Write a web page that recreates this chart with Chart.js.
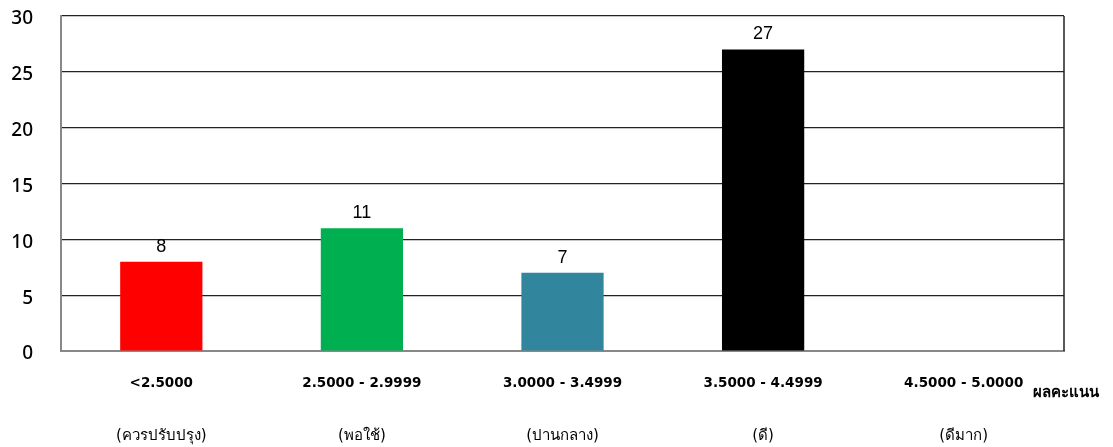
<!DOCTYPE html>
<html>
<head>
<meta charset="utf-8">
<script src="https://cdn.jsdelivr.net/npm/chart.js@4"></script>
<style>
    html, body { margin: 0; padding: 0; background: #fff; }
    #wrap { width: 1113px; height: 447px; }
</style>
</head>
<body>
<div id="wrap"><canvas id="scoreChart" width="1113" height="447"></canvas></div>
<script>
const ranges = ['<2.5000', '2.5000 - 2.9999', '3.0000 - 3.4999', '3.5000 - 4.4999', '4.5000 - 5.0000'];
const levels = ['(ควรปรับปรุง)', '(พอใช้)', '(ปานกลาง)', '(ดี)', '(ดีมาก)'];
const counts = [8, 11, 7, 27, 0];
const barColors = ['#FF0000', '#00B050', '#31859C', '#000000', '#FFFFFF'];
const yTicks = [0, 5, 10, 15, 20, 25, 30];
const axisTitle = 'ผลคะแนน';

// value labels above each bar + right frame line + axis title
const extras = {
    id: 'extras',
    afterDatasetsDraw(chart) {
        const ctx = chart.ctx;
        const area = chart.chartArea;
        ctx.save();
        ctx.strokeStyle = '#222';
        ctx.lineWidth = 1.5;
        ctx.beginPath();
        ctx.moveTo(area.right, area.top);
        ctx.lineTo(area.right, area.bottom);
        ctx.stroke();

        ctx.fillStyle = '#000';
        ctx.font = '18px "Liberation Sans", Arial, sans-serif';
        ctx.textAlign = 'center';
        ctx.textBaseline = 'middle';
        chart.getDatasetMeta(0).data.forEach((bar, i) => {
            if (!counts[i]) return;
            ctx.fillText(String(counts[i]), bar.x, bar.y - 15);
        });

        ctx.font = 'bold 15px Tahoma, "DejaVu Sans", sans-serif';
        ctx.textAlign = 'left';
        ctx.fillText(axisTitle, area.right - 31, area.bottom + 42);
        ctx.restore();
    }
};

new Chart(document.getElementById('scoreChart'), {
    type: 'bar',
    data: {
        labels: ranges,
        datasets: [{
            data: counts,
            backgroundColor: barColors,
            borderWidth: 0,
            barPercentage: 0.82,
            categoryPercentage: 0.5,
            xAxisID: 'x',
            yAxisID: 'y'
        }]
    },
    options: {
        responsive: false,
        animation: false,
        layout: { padding: { top: 16, right: 49, left: 0, bottom: 0 } },
        plugins: {
            legend: { display: false },
            tooltip: { enabled: false }
        },
        scales: {
            x: {
                afterFit: axis => { axis.height = 48; },
                grid: { display: false, drawTicks: false },
                border: { color: '#888', width: 2 },
                ticks: {
                    color: '#000',
                    padding: 24,
                    maxRotation: 0,
                    autoSkip: false,
                    font: { family: 'Tahoma, "DejaVu Sans", sans-serif', size: 13.5, weight: 'bold' }
                }
            },
            x2: {
                type: 'category',
                labels: levels,
                position: 'bottom',
                offset: true,
                afterFit: axis => { axis.height = 48; },
                grid: { display: false, drawTicks: false },
                border: { display: false },
                ticks: {
                    color: '#000',
                    padding: 28,
                    maxRotation: 0,
                    autoSkip: false,
                    font: { family: 'Tahoma, "DejaVu Sans", sans-serif', size: 15 }
                }
            },
            y: {
                min: 0,
                max: 30,
                afterBuildTicks: axis => { axis.ticks = yTicks.map(v => ({ value: v })); },
                afterFit: axis => {
                    axis.width = 61;
                    axis.paddingTop = 0;
                    axis.paddingBottom = 0;
                },
                grid: {
                    drawTicks: false,
                    color: ctx => ctx.tick && ctx.tick.value === 0 ? '#888' : '#222',
                    lineWidth: 1.2
                },
                border: { color: '#888', width: 2 },
                ticks: {
                    color: '#000',
                    padding: 28,
                    labelOffset: 3,
                    font: { family: '"Noto Sans", sans-serif', size: 19, weight: '500' }
                }
            }
        }
    },
    plugins: [extras]
});
</script>
</body>
</html>
